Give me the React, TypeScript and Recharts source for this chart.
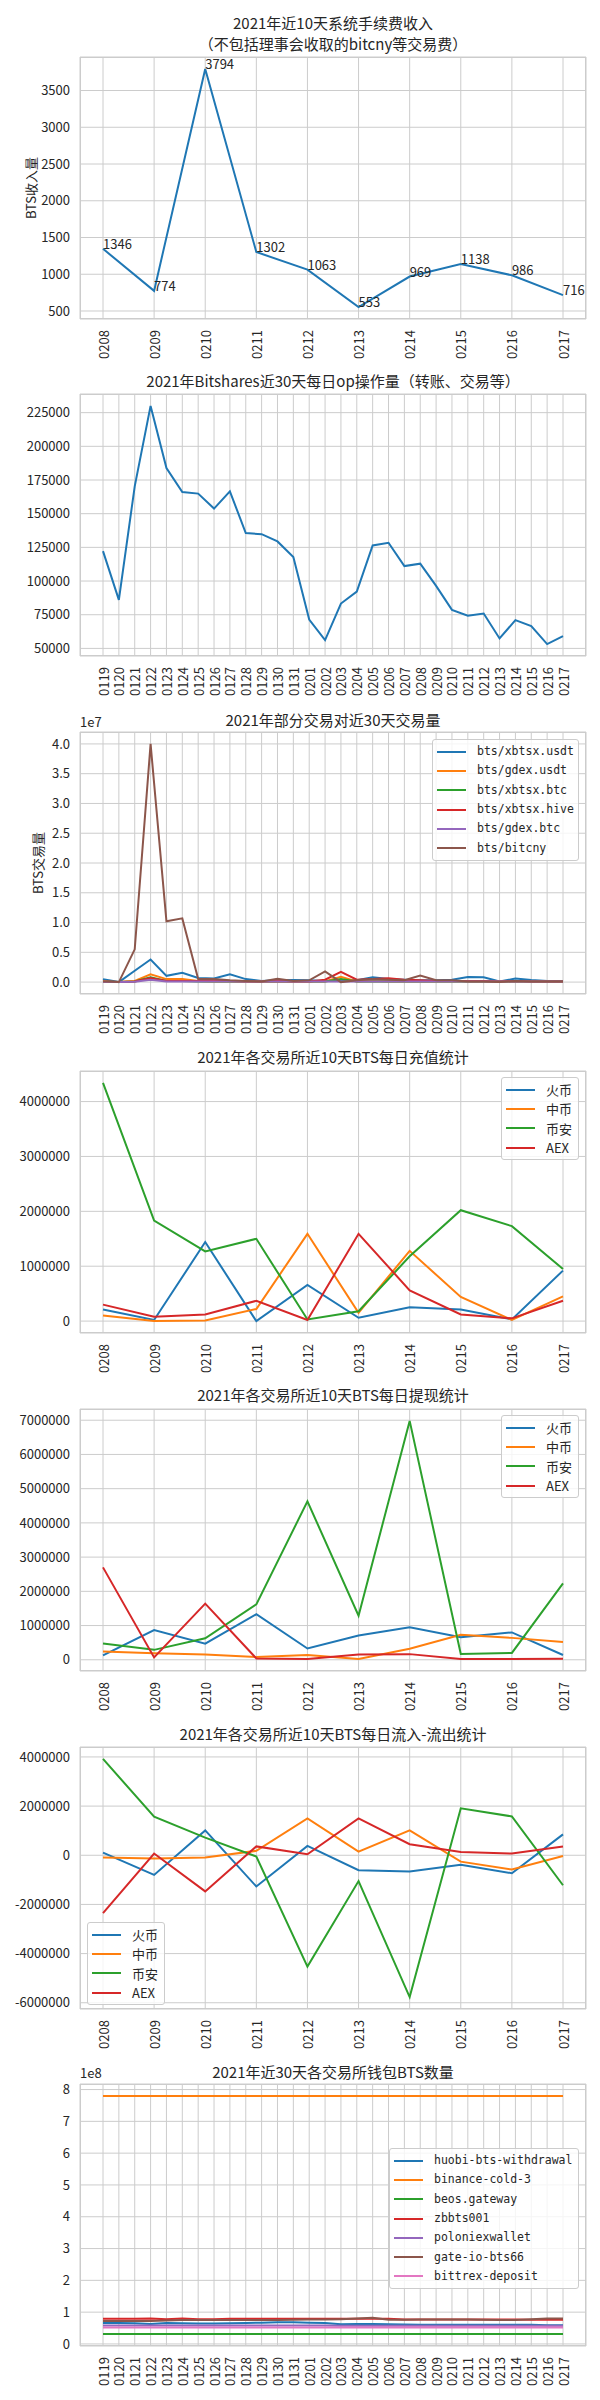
import React from 'react';
import { LineChart, Line, XAxis, YAxis, CartesianGrid, LabelList } from 'recharts';

// ---- x categories ----
const dates10 = ['0208', '0209', '0210', '0211', '0212', '0213', '0214', '0215', '0216', '0217'];
const dates30 = [
  '0119', '0120', '0121', '0122', '0123', '0124', '0125', '0126', '0127', '0128',
  '0129', '0130', '0131', '0201', '0202', '0203', '0204', '0205', '0206', '0207',
  '0208', '0209', '0210', '0211', '0212', '0213', '0214', '0215', '0216', '0217',
];

// ---- 1: fee income ----
const feeIncome = [1346, 774, 3794, 1302, 1063, 553, 969, 1138, 986, 716];

// ---- 2: daily op count ----
const opCount = [
  122200, 86000, 170300, 230000, 183900, 166100, 164900, 153800, 166600, 135600,
  134800, 129400, 117800, 71400, 56200, 83300, 92200, 126400, 128400, 111100,
  112900, 96400, 78600, 74200, 75900, 57400, 71000, 66500, 53200, 59100,
];

// ---- 3: pair volume ----
const volXbtsxUsdt = [
  500000, 0, 1900000, 3800000, 1050000, 1550000, 700000, 600000, 1300000, 500000,
  200000, 300000, 350000, 300000, 200000, 300000, 300000, 800000, 500000, 400000,
  300000, 300000, 400000, 850000, 800000, 100000, 600000, 350000, 200000, 200000,
];
const volGdexUsdt = [
  100000, 0, 200000, 1300000, 500000, 500000, 200000, 100000, 100000, 100000,
  100000, 100000, 100000, 100000, 100000, 900000, 100000, 200000, 100000, 100000,
  100000, 100000, 100000, 100000, 100000, 100000, 100000, 100000, 100000, 100000,
];
const volXbtsxBtc = [
  50000, 0, 100000, 800000, 200000, 200000, 100000, 100000, 100000, 100000,
  100000, 100000, 100000, 100000, 100000, 500000, 100000, 100000, 100000, 100000,
  100000, 100000, 100000, 100000, 100000, 100000, 100000, 100000, 100000, 100000,
];
const volXbtsxHive = [
  100000, 0, 100000, 700000, 200000, 200000, 200000, 300000, 200000, 100000,
  100000, 200000, 100000, 100000, 400000, 1700000, 400000, 500000, 650000, 400000,
  300000, 200000, 200000, 200000, 200000, 100000, 200000, 100000, 100000, 100000,
];
const volGdexBtc = [
  0, 0, 50000, 400000, 100000, 100000, 100000, 100000, 100000, 100000,
  100000, 100000, 100000, 100000, 100000, 100000, 100000, 100000, 100000, 100000,
  100000, 100000, 100000, 100000, 100000, 100000, 100000, 100000, 100000, 100000,
];
const volBitcny = [
  100000, 0, 5500000, 40000000, 10200000, 10700000, 500000, 500000, 300000, 200000,
  100000, 550000, 200000, 300000, 1800000, 0, 300000, 500000, 400000, 300000,
  1100000, 300000, 300000, 100000, 100000, 0, 200000, 100000, 100000, 100000,
];

// ---- 4: deposits ----
const depHuobi = [210000, 20000, 1440000, 0, 660000, 60000, 250000, 210000, 30000, 920000];
const depZb = [100000, 0, 10000, 220000, 1590000, 150000, 1280000, 440000, 20000, 450000];
const depBinance = [4340000, 1830000, 1270000, 1500000, 30000, 180000, 1180000, 2020000, 1730000, 950000];
const depAex = [300000, 80000, 120000, 370000, 20000, 1590000, 560000, 120000, 50000, 370000];

// ---- 5: withdrawals ----
const wdHuobi = [130000, 870000, 470000, 1330000, 330000, 710000, 950000, 660000, 800000, 140000];
const wdZb = [240000, 190000, 155000, 80000, 140000, 20000, 320000, 730000, 640000, 520000];
const wdBinance = [475000, 290000, 630000, 1620000, 4630000, 1290000, 6980000, 170000, 200000, 2230000];
const wdAex = [2700000, 70000, 1640000, 40000, 20000, 155000, 165000, 20000, 20000, 30000];

// ---- 6: net flow ----
const netHuobi = [110000, -800000, 1010000, -1270000, 380000, -610000, -660000, -390000, -730000, 850000];
const netZb = [-90000, -135000, -90000, 180000, 1500000, 150000, 1010000, -260000, -580000, -30000];
const netBinance = [3920000, 1570000, 720000, -50000, -4530000, -1050000, -5770000, 1910000, 1580000, -1220000];
const netAex = [-2350000, 70000, -1470000, 360000, 40000, 1500000, 450000, 135000, 70000, 360000];

// ---- 7: wallet balances ----
const walHuobi = [
  66000000, 66000000, 65000000, 63000000, 66000000, 65000000, 64000000, 64000000, 65000000, 66000000,
  67000000, 68000000, 68000000, 67000000, 66000000, 62000000, 63000000, 63000000, 62000000, 61000000,
  60000000, 60000000, 60000000, 60000000, 60000000, 60000000, 60000000, 60000000, 59000000, 59000000,
];
const walBinance = Array(30).fill(780000000);
const walBeos = Array(30).fill(31000000);
const walZb = [
  79000000, 79000000, 79000000, 80000000, 78000000, 80000000, 78000000, 78000000, 79000000, 79000000,
  79000000, 79000000, 79000000, 79000000, 79000000, 79000000, 79000000, 79000000, 79000000, 77000000,
  77000000, 77000000, 77000000, 77000000, 77000000, 77000000, 77000000, 76000000, 76000000, 76000000,
];
const walPolo = [
  58000000, 58000000, 58000000, 58000000, 58000000, 58000000, 58000000, 58000000, 58000000, 58000000,
  58000000, 58000000, 58000000, 58000000, 58000000, 57000000, 57000000, 57000000, 57000000, 57000000,
  57000000, 57000000, 57000000, 57000000, 57000000, 57000000, 57000000, 57000000, 57000000, 57000000,
];
const walGate = [
  72000000, 72000000, 72000000, 72000000, 74000000, 75000000, 75000000, 75000000, 75000000, 75000000,
  75000000, 75000000, 76000000, 77000000, 77000000, 78000000, 80000000, 82000000, 76000000, 76000000,
  77000000, 77000000, 77000000, 77000000, 76000000, 75000000, 75000000, 78000000, 80000000, 80000000,
];
const walBittrex = Array(30).fill(52000000);

// ---- tick values ----
const ticksFee = [500, 1000, 1500, 2000, 2500, 3000, 3500];
const ticksOp = [50000, 75000, 100000, 125000, 150000, 175000, 200000, 225000];
const ticksVol = [0, 5000000, 10000000, 15000000, 20000000, 25000000, 30000000, 35000000, 40000000];
const ticksDep = [0, 1000000, 2000000, 3000000, 4000000];
const ticksWd = [0, 1000000, 2000000, 3000000, 4000000, 5000000, 6000000, 7000000];
const ticksNet = [-6000000, -4000000, -2000000, 0, 2000000, 4000000];
const ticksWal = [0, 100000000, 200000000, 300000000, 400000000, 500000000, 600000000, 700000000, 800000000];

const TEXT = '#262626';
const GRID = '#cccccc';
const NUM_FONT = "'Noto Sans CJK SC', sans-serif";
const CJK_FONT = "'Noto Sans CJK SC', sans-serif";
const MONO_FONT = "'DejaVu Sans Mono', 'Noto Sans CJK SC', monospace";
const NUM_SIZE = 13;

const PLOT_LEFT = 80;
const PLOT_W = 506;
const PLOT_H = 262;
const AXIS_H = 50;
const PAD_TOP = 20; // room above the frame so top labels are not clipped

type Series = { name: string; values: number[]; color: string };

function autoDomain(series: Series[]): [number, number] {
  const all = series.flatMap((s) => s.values);
  const lo = Math.min(...all);
  const hi = Math.max(...all);
  const pad = (hi - lo) * 0.05;
  return [lo - pad, hi + pad];
}

function RotTick(props: any) {
  const { x, y, payload } = props;
  const yy = y + 3;
  return (
    <text x={x} y={yy} transform={`rotate(-90 ${x} ${yy})`} textAnchor="end" dominantBaseline="central"
      fontSize={NUM_SIZE} fontFamily={NUM_FONT} fill={TEXT}>
      {payload.value}
    </text>
  );
}

function PointLabel(props: any) {
  const x = props.x ?? props.viewBox?.x;
  const y = props.y ?? props.viewBox?.y;
  return (
    <text x={x} y={y} fontSize={NUM_SIZE} fontFamily={NUM_FONT} fill={TEXT}>
      {props.value}
    </text>
  );
}

function Panel({ top, labels, series, ticks, fmt, pointLabels }: {
  top: number; labels: string[]; series: Series[]; ticks: number[];
  fmt?: (v: number) => string; pointLabels?: boolean;
}) {
  const rows = labels.map((d, i) => {
    const r: any = { date: d };
    series.forEach((s, k) => { r['s' + k] = s.values[i]; });
    return r;
  });
  const domain = autoDomain(series);
  return (
    <div style={{ position: 'absolute', left: 0, top: top - PAD_TOP }}>
      <LineChart width={600} height={PAD_TOP + PLOT_H + AXIS_H} data={rows}
        margin={{ top: PAD_TOP, right: 14, bottom: 0, left: 0 }}>
        <CartesianGrid stroke={GRID} strokeWidth={1} />
        <XAxis dataKey="date" interval={0} tickLine={false} axisLine={false} height={AXIS_H}
          padding={{ left: 23, right: 23 }} tick={<RotTick />} />
        <YAxis width={PLOT_LEFT} type="number" domain={domain} ticks={ticks} allowDataOverflow
          tickFormatter={fmt} axisLine={false} tickLine={false} tickMargin={4}
          tick={{ fontSize: NUM_SIZE, fill: TEXT, fontFamily: NUM_FONT }} />
        {series.map((s, k) => (
          <Line key={s.name} type="linear" dataKey={'s' + k} stroke={s.color} strokeWidth={2}
            dot={false} isAnimationActive={false}>
            {pointLabels && <LabelList dataKey={'s' + k} content={PointLabel} />}
          </Line>
        ))}
      </LineChart>
      <div style={{
        position: 'absolute', left: PLOT_LEFT, top: PAD_TOP, width: PLOT_W, height: PLOT_H,
        border: `1px solid ${GRID}`, boxSizing: 'border-box', pointerEvents: 'none',
      }} />
    </div>
  );
}

function Title({ cy, lines }: { cy: number; lines: string[] }) {
  const lh = 21;
  return (
    <>
      {lines.map((l, i) => (
        <div key={l} style={{
          position: 'absolute', left: PLOT_LEFT - 20, width: PLOT_W + 40,
          top: cy - (lines.length * lh) / 2 + i * lh, height: lh,
          textAlign: 'center', fontSize: 15, lineHeight: `${lh}px`, fontFamily: CJK_FONT, color: TEXT,
          whiteSpace: 'nowrap',
        }}>{l}</div>
      ))}
    </>
  );
}

function YLabel({ cx, cy, text }: { cx: number; cy: number; text: string }) {
  return (
    <div style={{
      position: 'absolute', left: cx - 60, top: cy - 11, width: 120, height: 22, lineHeight: '22px',
      textAlign: 'center', transform: 'rotate(-90deg)', fontSize: 13, fontFamily: CJK_FONT, color: TEXT,
    }}>{text}</div>
  );
}

function OffsetText({ top, text }: { top: number; text: string }) {
  return (
    <div style={{ position: 'absolute', left: PLOT_LEFT, top, fontSize: NUM_SIZE, lineHeight: '19px', fontFamily: NUM_FONT, color: TEXT }}>
      {text}
    </div>
  );
}

function LegendBox({ left, top, width, items, font, fontSize }: {
  left: number; top: number; width: number; items: Series[]; font: string; fontSize: number;
}) {
  return (
    <div style={{
      position: 'absolute', left, top, width, boxSizing: 'border-box', padding: '2px 0',
      border: `1px solid ${GRID}`, borderRadius: 3, background: 'rgba(255,255,255,0.8)',
    }}>
      {items.map((s) => (
        <div key={s.name} style={{ display: 'flex', alignItems: 'center', height: 19.3 }}>
          <div style={{ marginLeft: 4, width: 29, height: 2, background: s.color, flex: 'none' }} />
          <span style={{ marginLeft: 11, fontSize, lineHeight: '19px', fontFamily: font, color: TEXT, whiteSpace: 'nowrap' }}>{s.name}</span>
        </div>
      ))}
    </div>
  );
}

const C = {
  blue: '#1f77b4', orange: '#ff7f0e', green: '#2ca02c', red: '#d62728',
  purple: '#9467bd', brown: '#8c564b', pink: '#e377c2',
};

const feeSeries: Series[] = [{ name: 'fee', values: feeIncome, color: C.blue }];
const opSeries: Series[] = [{ name: 'op', values: opCount, color: C.blue }];
const volSeries: Series[] = [
  { name: 'bts/xbtsx.usdt', values: volXbtsxUsdt, color: C.blue },
  { name: 'bts/gdex.usdt', values: volGdexUsdt, color: C.orange },
  { name: 'bts/xbtsx.btc', values: volXbtsxBtc, color: C.green },
  { name: 'bts/xbtsx.hive', values: volXbtsxHive, color: C.red },
  { name: 'bts/gdex.btc', values: volGdexBtc, color: C.purple },
  { name: 'bts/bitcny', values: volBitcny, color: C.brown },
];
const depSeries: Series[] = [
  { name: '火币', values: depHuobi, color: C.blue },
  { name: '中币', values: depZb, color: C.orange },
  { name: '币安', values: depBinance, color: C.green },
  { name: 'AEX', values: depAex, color: C.red },
];
const wdSeries: Series[] = [
  { name: '火币', values: wdHuobi, color: C.blue },
  { name: '中币', values: wdZb, color: C.orange },
  { name: '币安', values: wdBinance, color: C.green },
  { name: 'AEX', values: wdAex, color: C.red },
];
const netSeries: Series[] = [
  { name: '火币', values: netHuobi, color: C.blue },
  { name: '中币', values: netZb, color: C.orange },
  { name: '币安', values: netBinance, color: C.green },
  { name: 'AEX', values: netAex, color: C.red },
];
const walSeries: Series[] = [
  { name: 'huobi-bts-withdrawal', values: walHuobi, color: C.blue },
  { name: 'binance-cold-3', values: walBinance, color: C.orange },
  { name: 'beos.gateway', values: walBeos, color: C.green },
  { name: 'zbbts001', values: walZb, color: C.red },
  { name: 'poloniexwallet', values: walPolo, color: C.purple },
  { name: 'gate-io-bts66', values: walGate, color: C.brown },
  { name: 'bittrex-deposit', values: walBittrex, color: C.pink },
];

export default function App() {
  return (
    <div style={{ position: 'absolute', left: 0, top: 0, width: 600, height: 2400, background: '#fff', overflow: 'hidden' }}>
      {/* 1 */}
      <YLabel cx={31} cy={188} text="BTS收入量" />
      <Panel top={57} labels={dates10} series={feeSeries} ticks={ticksFee} pointLabels />
      <Title cy={33} lines={['2021年近10天系统手续费收入', '（不包括理事会收取的bitcny等交易费）']} />

      {/* 2 */}
      <Panel top={394} labels={dates30} series={opSeries} ticks={ticksOp} />
      <Title cy={380} lines={['2021年Bitshares近30天每日op操作量（转账、交易等）']} />

      {/* 3 */}
      <YLabel cx={38} cy={863} text="BTS交易量" />
      <Panel top={732} labels={dates30} series={volSeries} ticks={ticksVol} fmt={(v) => (v / 1e7).toFixed(1)} />
      <Title cy={719} lines={['2021年部分交易对近30天交易量']} />
      <OffsetText top={712} text="1e7" />
      <LegendBox left={432} top={739} width={147} items={volSeries} font={MONO_FONT} fontSize={11.5} />

      {/* 4 */}
      <Panel top={1071} labels={dates10} series={depSeries} ticks={ticksDep} />
      <Title cy={1056} lines={['2021年各交易所近10天BTS每日充值统计']} />
      <LegendBox left={501} top={1077} width={78} items={depSeries} font={CJK_FONT} fontSize={13} />

      {/* 5 */}
      <Panel top={1409} labels={dates10} series={wdSeries} ticks={ticksWd} />
      <Title cy={1394} lines={['2021年各交易所近10天BTS每日提现统计']} />
      <LegendBox left={501} top={1415} width={78} items={wdSeries} font={CJK_FONT} fontSize={13} />

      {/* 6 */}
      <Panel top={1747} labels={dates10} series={netSeries} ticks={ticksNet} />
      <Title cy={1733} lines={['2021年各交易所近10天BTS每日流入-流出统计']} />
      <LegendBox left={87} top={1922} width={78} items={netSeries} font={CJK_FONT} fontSize={13} />

      {/* 7 */}
      <Panel top={2084} labels={dates30} series={walSeries} ticks={ticksWal} fmt={(v) => String(Math.round(v / 1e8))} />
      <Title cy={2071} lines={['2021年近30天各交易所钱包BTS数量']} />
      <OffsetText top={2063} text="1e8" />
      <LegendBox left={389} top={2148} width={190} items={walSeries} font={MONO_FONT} fontSize={11.5} />
    </div>
  );
}
